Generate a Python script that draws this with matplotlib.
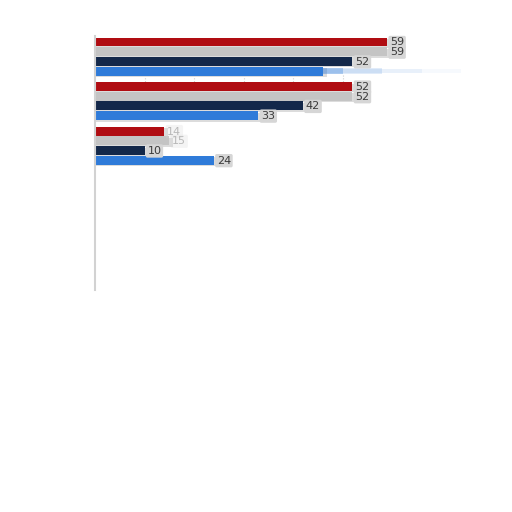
import matplotlib.pyplot as plt
import numpy as np

groups = ['A', 'B', 'C']
series = ['red', 'gray', 'navy', 'blue']
red_vals = [59, 52, 14]
gray_vals = [59, 52, 15]
navy_vals = [52, 42, 10]
blue_vals = [46, 33, 24]
labels_shown = [[True, True, True, False],
                [True, True, True, True],
                [True, True, True, True]]
label_faded = [[False, False, False, False],
               [False, False, False, False],
               [True, True, False, False]]

colors = ['#b00d12', '#c4c4c4', '#13284a', '#2f7bd9']

fig = plt.figure(figsize=(5.12, 5.12), dpi=100)
ax = fig.add_axes([95 / 512, 1 - 290 / 512, 400 / 512, 254 / 512])

values = np.array([red_vals, gray_vals, navy_vals, blue_vals]).T
group_step = 4.6

ax.set_xlim(0, 80.8)
ax.set_ylim(25.6, -0.62)

# dotted grid, only visible in the gap after the first group
ax.vlines(np.arange(10, 60, 10), 3.4, group_step - 0.4, colors='#cfcfcf',
          linestyles=(0, (1, 1.5)), linewidth=0.8, zorder=0)

for g in range(len(groups)):
    for s in range(len(series)):
        v = values[g, s]
        y = g * group_step + s
        # soft shadow behind bar
        ax.barh(y + 0.15, v + 0.8, height=0.92, color='#dcdcdc', zorder=1)
        if g == 0 and s == 3:
            # motion blur trail of the animated bar
            for k, a in enumerate([0.3, 0.15, 0.07, 0.04]):
                ax.barh(y, v + 4 + k * 8, height=0.7 - k * 0.1,
                        color=colors[s], alpha=a, linewidth=0, zorder=1.5)
        ax.barh(y, v, height=0.92, color=colors[s], zorder=2)
        if labels_shown[g][s]:
            faded = label_faded[g][s]
            ax.text(v + 0.6, y + 0.05, str(v), va='center', ha='left',
                    fontsize=8, color='#b8b8b8' if faded else '#3a3a3a',
                    zorder=3,
                    bbox=dict(boxstyle='round,pad=0.15', fc='#d6d6d6',
                              ec='none', alpha=0.25 if faded else 1.0))

for side in ['top', 'right', 'bottom']:
    ax.spines[side].set_visible(False)
ax.spines['left'].set_color('#d2d2d2')
ax.spines['left'].set_linewidth(1.5)
ax.set_xticks([])
ax.set_yticks([])
ax.patch.set_alpha(0)

fig.savefig('out.png', dpi=100)
